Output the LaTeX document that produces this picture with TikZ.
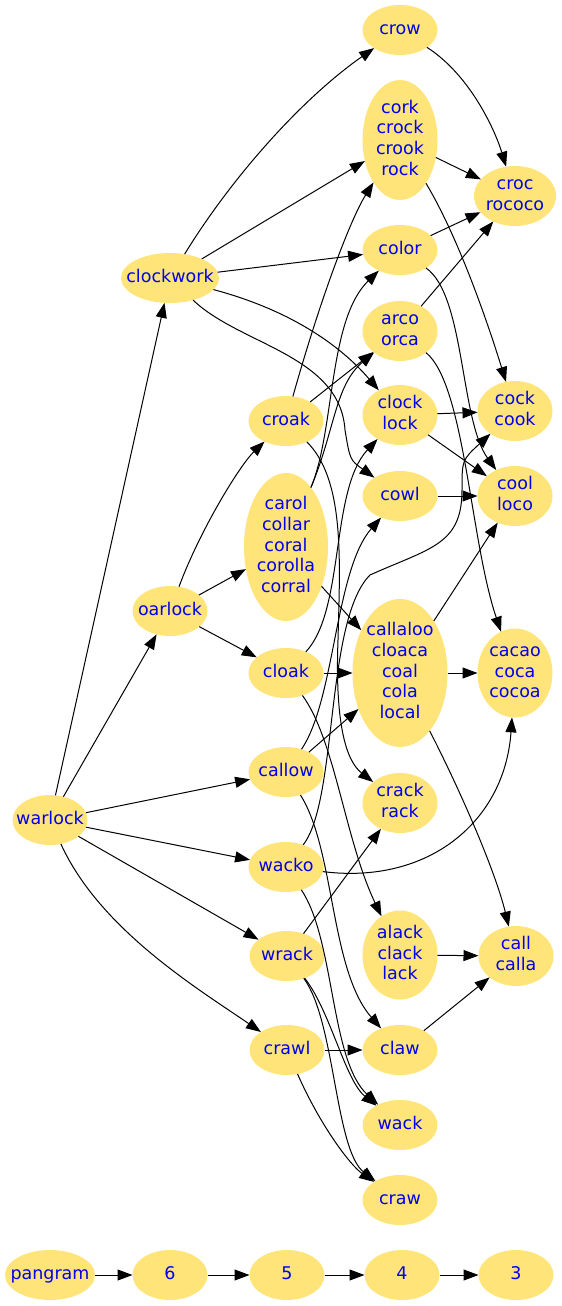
\documentclass[tikz,border=0pt]{standalone}
\usepackage{fontspec}
\setmainfont{DejaVu Sans}
\usetikzlibrary{shapes.geometric,arrows.meta}
\definecolor{nodefill}{RGB}{255,228,122}
\definecolor{nodetext}{RGB}{0,0,235}
\newcommand{\wl}[1]{\makebox[0pt]{\begin{tabular}{@{}c@{}}#1\end{tabular}}}
\begin{document}
\begin{tikzpicture}[x=1pt,y=-1pt,
  >={Triangle[length=15pt,width=11pt]},
  v/.style={ellipse, fill=nodefill, draw=none, inner sep=0pt, outer sep=0pt,
    minimum width=75pt, minimum height=50pt, text=nodetext,
    font=\fontsize{17.5}{20.6}\selectfont},
  vtwo/.style={v, minimum height=60pt},
  vthree/.style={v, minimum height=89pt},
  vfour/.style={v, minimum height=120pt},
  vfive/.style={v, minimum height=148pt},
  conn/.style={->, line width=1pt, draw=black}]
\useasboundingbox (0,0) rectangle (562,1306);
% nodes
\node[v] (crow) at (400,30) {\wl{crow}};
\node[vfour] (cork) at (400,140) {\wl{cork\\crock\\crook\\rock}};
\node[vtwo, minimum width=82pt] (croc) at (515,196) {\wl{croc\\rococo}};
\node[v] (color) at (400,250) {\wl{color}};
\node[v, minimum width=98pt] (clockwork) at (170,278) {\wl{clockwork}};
\node[vtwo] (arco) at (400,331) {\wl{arco\\orca}};
\node[v] (croak) at (286,421) {\wl{croak}};
\node[vtwo] (clock) at (400,415) {\wl{clock\\lock}};
\node[vtwo] (cock) at (515,411) {\wl{cock\\cook}};
\node[v] (cowl) at (400,496) {\wl{cowl}};
\node[vtwo] (cool) at (515,496) {\wl{cool\\loco}};
\node[vfive, minimum width=84pt] (carol) at (286,547) {\wl{carol\\collar\\coral\\corolla\\corral}};
\node[v] (oarlock) at (170,611) {\wl{oarlock}};
\node[v] (cloak) at (286,673) {\wl{cloak}};
\node[vfive, minimum width=95pt] (callaloo) at (400,673) {\wl{callaloo\\cloaca\\coal\\cola\\local}};
\node[vthree] (cacao) at (515,673) {\wl{cacao\\coca\\cocoa}};
\node[v] (callow) at (286,772) {\wl{callow}};
\node[vtwo] (crack) at (400,803) {\wl{crack\\rack}};
\node[v] (warlock) at (50,820) {\wl{warlock}};
\node[v] (wacko) at (286,867) {\wl{wacko}};
\node[vthree] (alack) at (400,955) {\wl{alack\\clack\\lack}};
\node[vtwo] (call) at (516,956) {\wl{call\\calla}};
\node[v] (wrack) at (287,956) {\wl{wrack}};
\node[v] (crawl) at (287,1050) {\wl{crawl}};
\node[v] (claw) at (400,1050) {\wl{claw}};
\node[v] (wack) at (400,1125) {\wl{wack}};
\node[v] (craw) at (400,1200) {\wl{craw}};
\node[v, minimum width=90pt] (pangram) at (50,1275) {\wl{pangram}};
\node[v] (n6) at (170,1275) {\wl{6}};
\node[v] (n5) at (287,1275) {\wl{5}};
\node[v] (n4) at (402,1275) {\wl{4}};
\node[v] (n3) at (516,1275) {\wl{3}};
% edges from warlock
\draw[conn] (warlock) -- (clockwork);
\draw[conn] (warlock) -- (oarlock);
\draw[conn] (warlock) -- (callow);
\draw[conn] (warlock) -- (wacko);
\draw[conn] (warlock) -- (wrack);
\draw[conn] (warlock) .. controls (100,930) and (200,990) .. (crawl);
% clockwork
\draw[conn] (clockwork) .. controls (230,180) and (300,100) .. (crow);
\draw[conn] (clockwork) -- (cork);
\draw[conn] (clockwork) -- (color);
\draw[conn] (clockwork) .. controls (290,310) and (340,345) .. (clock);
\draw[conn] (clockwork) .. controls (240,345) and (340,355) .. (345,430) .. controls (350,460) .. (cowl);
% oarlock
\draw[conn] (oarlock) .. controls (200,530) and (240,465) .. (croak);
\draw[conn] (oarlock) -- (carol);
\draw[conn] (oarlock) -- (cloak);
% croak
\draw[conn] (croak) .. controls (320,300) and (350,220) .. (cork);
\draw[conn] (croak) -- (arco);
\draw[conn] (croak) .. controls (345,480) and (340,560) .. (338,640) .. controls (335,720) and (345,760) .. (crack);
% carol
\draw[conn] (carol) .. controls (335,430) and (328,320) .. (color);
\draw[conn] (carol) .. controls (335,430) and (335,385) .. (arco);
\draw[conn] (carol) -- (callaloo);
% cloak
\draw[conn] (cloak) .. controls (345,610) and (330,490) .. (clock);
\draw[conn] (cloak) -- (callaloo);
\draw[conn] (cloak) .. controls (335,740) and (345,840) .. (alack);
% callow
\draw[conn] (callow) -- (callaloo);
\draw[conn] (callow) .. controls (335,700) and (335,570) .. (cowl);
\draw[conn] (callow) .. controls (335,850) and (330,970) .. (claw);
% wacko
\draw[conn] (wacko) .. controls (338,800) and (325,620) .. (370,575) .. controls (430,548) and (462,545) .. (462,490) .. controls (462,460) .. (cock);
\draw[conn] (wacko) .. controls (430,885) and (505,820) .. (cacao);
\draw[conn] (wacko) .. controls (335,940) and (330,1060) .. (wack);
% wrack
\draw[conn] (wrack) -- (crack);
\draw[conn] (wrack) .. controls (330,1010) and (345,1080) .. (wack);
\draw[conn] (wrack) .. controls (335,1020) and (335,1150) .. (craw);
% crawl
\draw[conn] (crawl) -- (claw);
\draw[conn] (crawl) .. controls (320,1125) and (350,1165) .. (craw);
% level 4 to level 3
\draw[conn] (crow) .. controls (470,75) and (495,130) .. (croc);
\draw[conn] (cork) -- (croc);
\draw[conn] (cork) .. controls (460,240) and (490,330) .. (cock);
\draw[conn] (color) -- (croc);
\draw[conn] (color) .. controls (465,295) and (460,420) .. (cool);
\draw[conn] (arco) -- (croc);
\draw[conn] (arco) .. controls (465,385) and (470,540) .. (cacao);
\draw[conn] (clock) -- (cock);
\draw[conn] (clock) -- (cool);
\draw[conn] (cowl) -- (cool);
\draw[conn] (callaloo) -- (cool);
\draw[conn] (callaloo) -- (cacao);
\draw[conn] (callaloo) .. controls (460,790) and (495,870) .. (call);
\draw[conn] (alack) -- (call);
\draw[conn] (claw) -- (call);
% rank chain
\draw[conn] (pangram) -- (n6);
\draw[conn] (n6) -- (n5);
\draw[conn] (n5) -- (n4);
\draw[conn] (n4) -- (n3);
\end{tikzpicture}
\end{document}
